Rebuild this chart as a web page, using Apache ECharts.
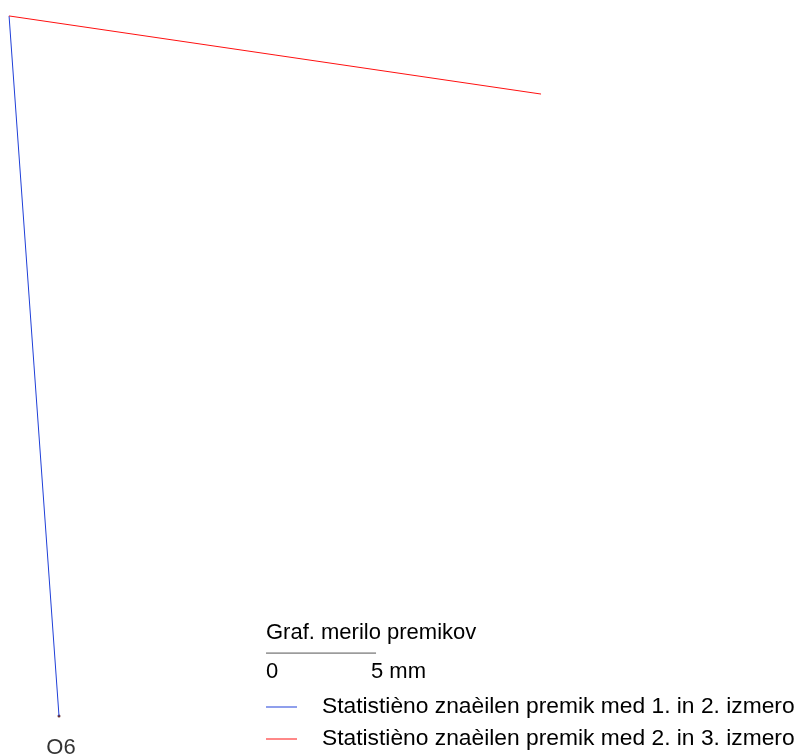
<!DOCTYPE html>
<html>
<head>
<meta charset="utf-8">
<script src="https://cdn.jsdelivr.net/npm/echarts@6/dist/echarts.min.js"></script>
<style>
  html, body { margin: 0; padding: 0; background: #fff; }
  #chart { width: 798px; height: 756px; }
</style>
</head>
<body>
<div id="chart"></div>
<script>
  // coordinates in mm, point O6 is the origin
  var pointName = 'O6';
  var pointPos = [0, 0];
  var move12 = [[0, 0], [-2.27, 31.82]];
  var move23 = [[-2.27, 31.82], [21.91, 28.27]];
  var seriesNames = [
    'Statistièno znaèilen premik med 1. in 2. izmero',
    'Statistièno znaèilen premik med 2. in 3. izmero'
  ];
  var scaleTitle = 'Graf. merilo premikov';
  var scaleBar = [[9.41, 2.86], [14.41, 2.86]];
  var scaleLabels = ['0', '5 mm'];

  var chart = echarts.init(document.getElementById('chart'));
  var font = 'Liberation Sans, Arial, sans-serif';

  var option = {
    animation: false,
    grid: { left: 0, right: 0, top: 0, bottom: 0 },
    xAxis: { type: 'value', min: -2.682, max: 33.59, show: false },
    yAxis: { type: 'value', min: -1.818, max: 32.545, show: false },
    legend: {
      data: seriesNames,
      orient: 'vertical',
      left: 266,
      top: 692,
      padding: 0,
      icon: 'rect',
      itemWidth: 31,
      itemHeight: 1,
      itemGap: 2,
      textStyle: {
        fontFamily: font,
        fontSize: 22.8,
        color: '#000',
        lineHeight: 23,
        padding: [0, 0, 7, 20]
      }
    },
    graphic: [
      { type: 'text', left: 266, top: 622, style: { text: scaleTitle, font: '22px ' + font, fill: '#000' } },
      { type: 'text', left: 266, top: 661, style: { text: scaleLabels[0], font: '22px ' + font, fill: '#000' } },
      { type: 'text', left: 371, top: 661, style: { text: scaleLabels[1], font: '22px ' + font, fill: '#000' } }
    ],
    series: [
      {
        name: seriesNames[0],
        type: 'line',
        data: move12,
        symbol: 'none',
        lineStyle: { color: '#1f3fd8', width: 1 },
        itemStyle: { color: '#1f3fd8' }
      },
      {
        name: seriesNames[1],
        type: 'line',
        data: move23,
        symbol: 'none',
        lineStyle: { color: '#ff1010', width: 1 },
        itemStyle: { color: '#ff1010' }
      },
      {
        name: 'scale',
        type: 'line',
        data: scaleBar,
        symbol: 'none',
        lineStyle: { color: '#555', width: 1 }
      },
      {
        name: 'point',
        type: 'scatter',
        data: [pointPos],
        symbolSize: 3,
        itemStyle: { color: '#400' },
        label: {
          show: true,
          position: 'bottom',
          distance: 19,
          offset: [2, 0],
          formatter: pointName,
          fontFamily: font,
          fontSize: 22,
          color: '#000'
        }
      }
    ]
  };
  chart.setOption(option);
</script>
</body>
</html>
